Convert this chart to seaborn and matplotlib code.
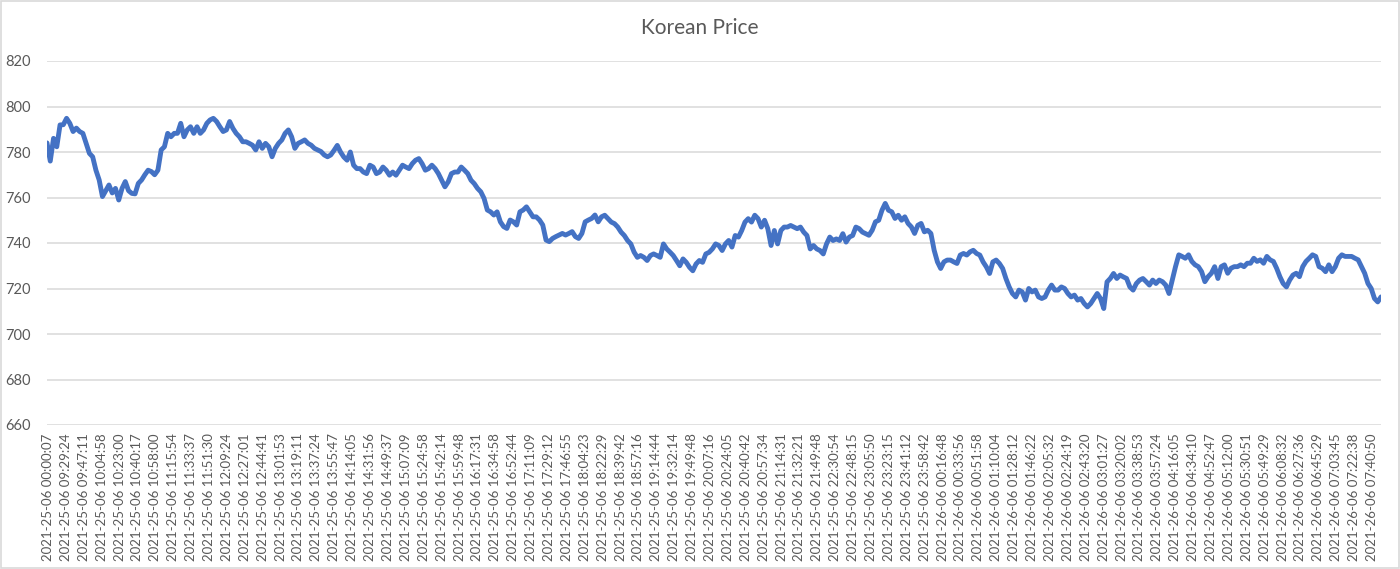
import seaborn as sns
import pandas as pd
import matplotlib.pyplot as plt
import numpy as np
from matplotlib.patches import Rectangle

# price, left to right, in five stretches
price_morning = [784, 776, 786, 782.3, 791.9, 792, 794.8, 792.6, 789, 790.5, 789, 788.2, 783.8,
                 779.4, 777.9, 772, 767.7, 760.4, 763, 765.5, 762, 764, 758.9, 764, 767, 763,
                 761.8, 761.6, 766.2, 767.7, 770, 772, 771.4, 770, 772, 780.9, 782.3, 788.2,
                 786.7, 788.2, 788.2, 792.6, 786.7, 789.7, 791.1, 788.2, 791.1, 788.2, 789.7,
                 792.6, 794.1, 794.8, 793.4, 791.1, 789, 789.7, 793.4, 790.4, 788.2, 786.7,
                 784.5, 784.5, 783.8, 783, 780.9, 784.5, 781.6, 783.8, 782.3, 777.9, 781.6,
                 783.8, 785.3, 788.2, 789.7, 786.7, 781.6, 783.8, 784.5, 785.3, 783.8, 783,
                 781.6, 780.9, 780.2, 778.7, 777.9, 778.7]
price_afternoon = [780.7, 782.9, 780, 777.8, 776.4, 780, 774.2, 772.7, 772.7, 771.2, 770.5, 774.2,
                   773.4, 770.5, 771.2, 773.4, 772, 769.8, 771.2, 769.8, 772, 774.2, 773.4,
                   772.7, 774.9, 776.4, 777.1, 774.9, 772, 772.7, 774.2, 772.7, 770.5, 767.6,
                   764.7, 766.9, 770.5, 771.2, 771.2, 773.4, 772, 770.5, 767.6, 766.1, 764,
                   762.5, 759.6, 754.5, 753.7, 752.3, 753.7, 749.3, 747.2, 746.4, 750.1, 749.3,
                   747.9, 753.7, 754.5, 755.9, 753.7, 751.5, 751.5, 750.1, 747.9, 741.3, 740.6,
                   742, 742.8, 743.5, 744.2, 743.5, 744.2, 745, 742.8, 742, 744.2, 749.3, 750.1,
                   750.8, 752.3, 749.3, 751.5]
price_evening = [752.2, 750.7, 749.2, 748.5, 747, 744.8, 743.3, 741.1, 739.6, 736, 733.7, 734.5,
                 733.7, 732.3, 734.5, 735.2, 734.5, 733.7, 739.6, 737.4, 736, 734.5, 732.3, 730,
                 733, 731.5, 729.3, 727.8, 730.8, 732.3, 731.5, 735.2, 735.9, 737.4, 739.6,
                 738.9, 736.7, 739.6, 741.1, 738.2, 743.3, 742.6, 745.5, 749.2, 750.7, 749.2,
                 752.2, 750.7, 747, 750, 746.3, 738.9, 745.5, 739.6, 745.5, 747, 747, 747.7, 747,
                 746.3, 747, 744.8, 743.3, 737.4, 738.9, 737.4, 736.7, 735.2, 739.6, 742.6,
                 741.1, 741.8, 741.1, 744.1, 740.4, 742.6, 743.3, 747, 746.3, 744.8, 744.1]
price_night = [743.4, 745.6, 749.3, 750, 754.4, 757.4, 754.4, 753.7, 750.8, 752.2, 750, 751.5,
               748.6, 747.1, 744.2, 747.8, 748.6, 744.9, 745.6, 744.2, 736.8, 731.7, 728.8,
               731.7, 732.5, 732.5, 731.7, 731, 734.7, 735.4, 734.7, 736.1, 736.8, 735.4, 734.7,
               731.7, 729.5, 726.6, 731.7, 732.5, 731, 728.8, 724.4, 720.7, 717.8, 716.3, 719.3,
               718.5, 714.9, 720, 718.5, 719.3, 716.3, 715.6, 716.3, 719.3, 721.5, 719.3, 719.3,
               720.7, 720, 717.8, 716.3, 717.1, 714.9, 715.6, 713.4, 711.9, 713.4, 715.6, 717.8,
               715.6, 711.2, 722.9, 724.4, 726.6, 724.4, 725.9, 725.1, 724.4, 720.7]
price_dawn = [719.3, 722.2, 723.7, 724.4, 723, 721.5, 723.7, 722.2, 723.7, 723, 721.5, 717.8,
              723.7, 729.6, 734.8, 734.1, 733.3, 734.8, 731.9, 730.4, 729.6, 727.4, 723, 725.2,
              726.7, 729.6, 724.4, 729.6, 730.4, 726.7, 728.9, 729.6, 729.6, 730.4, 729.6, 731.1,
              731.1, 733.3, 731.9, 732.6, 731.1, 734.1, 732.6, 731.9, 728.9, 725.2, 722.2, 720.7,
              723.7, 725.9, 726.7, 725.2, 729.6, 731.9, 733.3, 734.8, 734.1, 729.6, 728.9, 727.4,
              730.4, 727.4, 729.6, 733.3, 734.8, 734.1, 734.1, 734.1, 733.3, 732.6, 729.6, 726.7,
              722.2, 720, 715.6, 714.1, 716.3]

times_day25 = ["00:00:07", "09:29:24", "09:47:11", "10:04:58", "10:23:00", "10:40:17", "10:58:00",
               "11:15:54", "11:33:37", "11:51:30", "12:09:24", "12:27:01", "12:44:41", "13:01:53",
               "13:19:11", "13:37:24", "13:55:47", "14:14:05", "14:31:56", "14:49:37", "15:07:09",
               "15:24:58", "15:42:14", "15:59:48", "16:17:31", "16:34:58", "16:52:44", "17:11:09",
               "17:29:12", "17:46:55", "18:04:23", "18:22:29", "18:39:42", "18:57:16", "19:14:44",
               "19:32:14", "19:49:48", "20:07:16", "20:24:05", "20:40:42", "20:57:34", "21:14:31",
               "21:32:21", "21:49:48", "22:30:54", "22:48:15", "23:05:50", "23:23:15", "23:41:12",
               "23:58:42"]
times_day26 = ["00:16:48", "00:33:56", "00:51:58", "01:10:04", "01:28:12", "01:46:22", "02:05:32",
               "02:24:19", "02:43:20", "03:01:27", "03:20:02", "03:38:53", "03:57:24", "04:16:05",
               "04:34:10", "04:52:47", "05:12:00", "05:30:51", "05:49:29", "06:08:32", "06:27:36",
               "06:45:29", "07:03:45", "07:22:38", "07:40:50"]

tick_labels = ["2021-25-06 " + t for t in times_day25] + ["2021-26-06 " + t for t in times_day26]

price = price_morning + price_afternoon + price_evening + price_night + price_dawn
df = pd.DataFrame({"step": np.arange(len(price)), "price": price})

sns.set_theme(style="white")
plt.rcParams["font.family"] = ["Lato", "DejaVu Sans"]

fig = plt.figure(figsize=(14, 5.69), dpi=100)
ax = fig.add_axes([47 / 1400, 1 - 425 / 569, 1334 / 1400, 364 / 569])

sns.lineplot(data=df, x="step", y="price", ax=ax, color="#4472C4", linewidth=3.5)

ax.set_ylim(660, 820)
ax.set_yticks(np.arange(660, 821, 20))
ax.set_xlim(0, len(price) - 1)
n = len(price) - 1
ax.set_xticks(np.linspace(1 / 1334, 1325 / 1334, len(tick_labels)) * n)
ax.set_xticklabels(tick_labels, rotation=90, fontsize=9.5, color="#595959")
ax.tick_params(axis="y", labelsize=10.5, labelcolor="#595959", length=0, pad=12)
ax.tick_params(axis="x", length=0, pad=6)
ax.grid(axis="y", color="#D9D9D9", linewidth=1.1)
ax.set_axisbelow(True)
for s in ax.spines.values():
    s.set_visible(False)
ax.set_xlabel("")
ax.set_ylabel("")

fig.text(0.5, 1 - 28 / 569, "Korean Price", ha="center", va="center", fontsize=15, color="#595959")
fig.patches.append(Rectangle((0.0005, 0.001), 0.999, 0.998, transform=fig.transFigure,
                             fill=False, edgecolor="#D9D9D9", linewidth=1.2))

plt.savefig("out.png")
